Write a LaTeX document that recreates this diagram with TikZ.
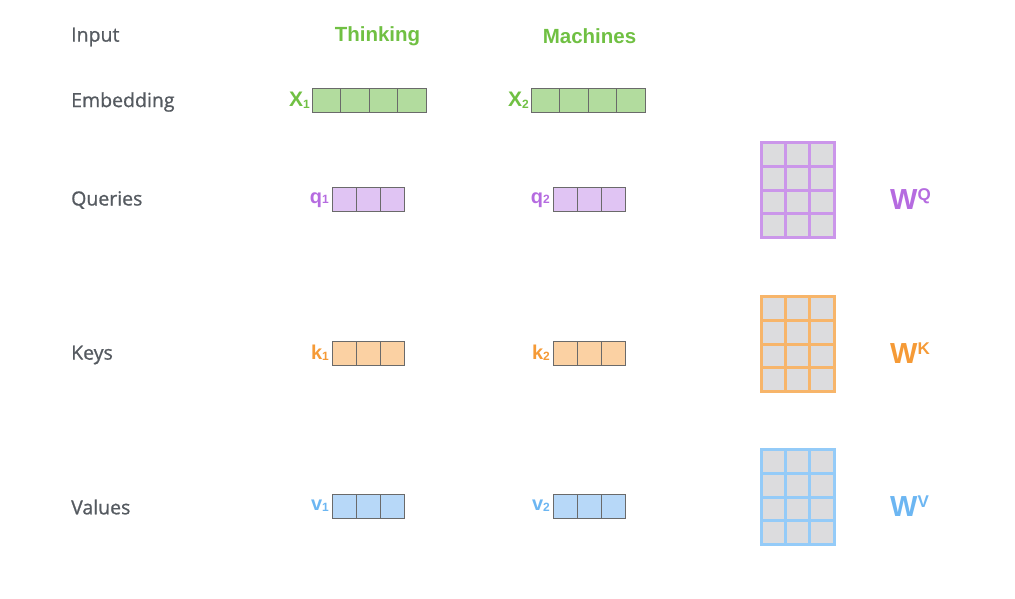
\documentclass[tikz,border=0pt]{standalone}
\usepackage{fontspec}
\setmainfont{Liberation Sans}
\newfontfamily\rowfont[FakeBold=0.9]{Open Sans}
\definecolor{rowgray}{HTML}{555A60}
\definecolor{cgreen}{HTML}{70C043}
\definecolor{fgreen}{HTML}{B2DC9E}
\definecolor{cpurple}{HTML}{B56BE0}
\definecolor{fpurple}{HTML}{E0C4F3}
\definecolor{mpurple}{HTML}{CB96EA}
\definecolor{corange}{HTML}{F59A36}
\definecolor{forange}{HTML}{FBD1A3}
\definecolor{morange}{HTML}{F7B56A}
\definecolor{cblue}{HTML}{6CB6F2}
\definecolor{fblue}{HTML}{B7D8F8}
\definecolor{mblue}{HTML}{94CBF8}
\definecolor{cellborder}{HTML}{6A6A6A}
\definecolor{mfill}{HTML}{DCDCDE}
\begin{document}
\begin{tikzpicture}[x=1pt,y=-1pt,
  rowlabel/.style={anchor=west,text=rowgray,font=\rowfont\fontsize{19.5}{22}\selectfont,inner sep=0},
  word/.style={font=\bfseries\fontsize{20.5}{22}\selectfont,inner sep=0},
  cell/.style={draw=cellborder,line width=1pt,inner sep=0,outer sep=0,anchor=north west,minimum height=24},
  ecell/.style={cell,fill=fgreen,minimum width=28.5},
  vcell/.style={cell,minimum width=24.33},
  mcell/.style={fill=mfill,line width=3pt,inner sep=0,outer sep=0,anchor=north west,minimum width=24.5,minimum height=24},
  vlab/.style={anchor=east,inner sep=0,font=\bfseries}
]
\useasboundingbox (0,0) rectangle (1015,598);

% row labels
\node[rowlabel] (lin) at (71,37) {Input};
\node[rowlabel] (lemb) at (71,102) {Embedding};
\node[rowlabel] (lq) at (71,200) {Queries};
\node[rowlabel] (lk) at (71,355) {Keys};
\node[rowlabel] (lv) at (71,507) {Values};

% input words
\node[word,text=cgreen] (w1) at (377.5,36.5) {Thinking};
\node[word,text=cgreen] (w2) at (589.5,36.5) {Machines};

% embeddings
\foreach \i in {0,...,3} {
  \node[ecell] (xa\i) at (312+\i*28.5,88) {};
  \node[ecell] (xb\i) at (531+\i*28.5,88) {};
}
\node[vlab,text=cgreen] (x1) at ([xshift=-2]xa0.west) {\fontsize{21}{22}\selectfont X\raisebox{-2pt}{\fontsize{12}{12}\selectfont 1}};
\node[vlab,text=cgreen] (x2) at ([xshift=-2]xb0.west) {\fontsize{21}{22}\selectfont X\raisebox{-2pt}{\fontsize{12}{12}\selectfont 2}};

% queries, keys, values
\foreach \i in {0,1,2} {
  \node[vcell,fill=fpurple] (qa\i) at (332+\i*24.33,187) {};
  \node[vcell,fill=fpurple] (qb\i) at (553+\i*24.33,187) {};
  \node[vcell,fill=forange] (ka\i) at (332+\i*24.33,341) {};
  \node[vcell,fill=forange] (kb\i) at (553+\i*24.33,341) {};
  \node[vcell,fill=fblue] (va\i) at (332+\i*24.33,494) {};
  \node[vcell,fill=fblue] (vb\i) at (553+\i*24.33,494) {};
}
\node[vlab,text=cpurple] (q1) at ([xshift=-3,yshift=-1]qa0.west) {\fontsize{20}{22}\selectfont q\raisebox{0pt}{\fontsize{12}{12}\selectfont 1}};
\node[vlab,text=cpurple] (q2) at ([xshift=-3,yshift=-1]qb0.west) {\fontsize{20}{22}\selectfont q\raisebox{0pt}{\fontsize{12}{12}\selectfont 2}};
\node[vlab,text=corange] (k1) at ([xshift=-3]ka0.west) {\fontsize{20}{22}\selectfont k\raisebox{-1pt}{\fontsize{12}{12}\selectfont 1}};
\node[vlab,text=corange] (k2) at ([xshift=-3]kb0.west) {\fontsize{20}{22}\selectfont k\raisebox{-1pt}{\fontsize{12}{12}\selectfont 2}};
\node[vlab,text=cblue] (v1) at ([xshift=-3]va0.west) {\fontsize{20}{22}\selectfont v\raisebox{-1pt}{\fontsize{12}{12}\selectfont 1}};
\node[vlab,text=cblue] (v2) at ([xshift=-3]vb0.west) {\fontsize{20}{22}\selectfont v\raisebox{-1pt}{\fontsize{12}{12}\selectfont 2}};

% weight matrices
\foreach \r in {0,...,3} {
  \foreach \c in {0,1,2} {
    \node[mcell,draw=mpurple] (mq\r\c) at (761.5+\c*24,142.5+\r*23.75) {};
    \node[mcell,draw=morange] (mk\r\c) at (761.5+\c*24,296.5+\r*23.75) {};
    \node[mcell,draw=mblue] (mv\r\c) at (761.5+\c*24,449.5+\r*23.75) {};
  }
}
\node[anchor=west,inner sep=0,text=cpurple,font=\bfseries] (wq) at (890,199) {\fontsize{29}{30}\selectfont W\raisebox{9pt}{\fontsize{17}{17}\selectfont Q}};
\node[anchor=west,inner sep=0,text=corange,font=\bfseries] (wk) at (890,353) {\fontsize{29}{30}\selectfont W\raisebox{9pt}{\fontsize{17}{17}\selectfont K}};
\node[anchor=west,inner sep=0,text=cblue,font=\bfseries] (wv) at (890,506) {\fontsize{29}{30}\selectfont W\raisebox{9pt}{\fontsize{17}{17}\selectfont V}};
\end{tikzpicture}
\end{document}
